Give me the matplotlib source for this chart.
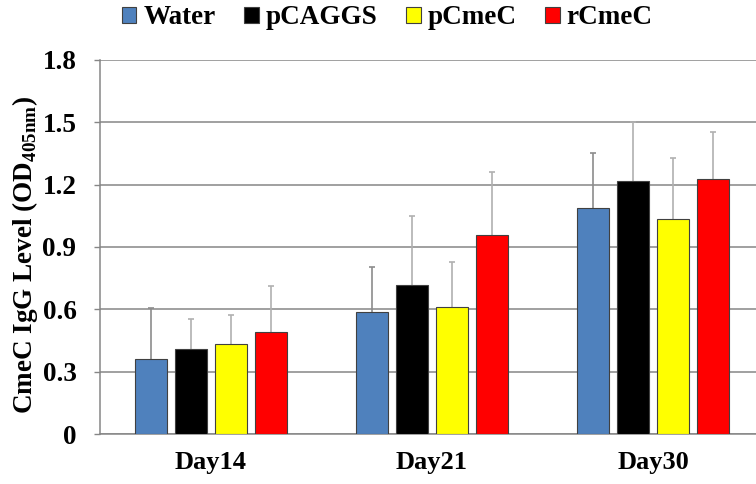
import matplotlib
matplotlib.use("Agg")
import matplotlib.pyplot as plt
import numpy as np

days = ["Day14", "Day21", "Day30"]
groups = ["Water", "pCAGGS", "pCmeC", "rCmeC"]
colors = ["#4F81BD", "#000000", "#FFFF00", "#FF0000"]
err_colors = ["#8c8c8c", "#b0b0b0", "#b0b0b0", "#b0b0b0"]

water = [0.361, 0.586, 1.089]
pcaggs = [0.409, 0.717, 1.216]
pcmec = [0.433, 0.611, 1.035]
rcmec = [0.492, 0.958, 1.226]

water_err = [0.245, 0.219, 0.262]
pcaggs_err = [0.144, 0.332, 0.288]
pcmec_err = [0.141, 0.218, 0.295]
rcmec_err = [0.222, 0.304, 0.226]

yticks = [0, 0.3, 0.6, 0.9, 1.2, 1.5, 1.8]
ytick_labels = ["0", "0.3", "0.6", "0.9", "1.2", "1.5", "1.8"]

plt.rcParams["font.family"] = ["Liberation Serif", "DejaVu Serif"]
plt.rcParams["font.weight"] = "bold"
plt.rcParams["mathtext.fontset"] = "custom"
plt.rcParams["mathtext.bf"] = "Liberation Serif:bold"
plt.rcParams["mathtext.rm"] = "Liberation Serif:bold"

fig = plt.figure(figsize=(7.56, 4.84), dpi=100)
ax = fig.add_axes([100 / 756, 1 - 434 / 484, 664 / 756, 374 / 484])

series = [water, pcaggs, pcmec, rcmec]
errs = [water_err, pcaggs_err, pcmec_err, rcmec_err]
x = np.arange(len(days))
width = 0.1445
step = 0.1806
cap = 0.014
for i, (vals, err, col, ecol, name) in enumerate(
        zip(series, errs, colors, err_colors, groups)):
    pos = x + (i - 1.5) * step
    vals = np.asarray(vals)
    tops = vals + np.asarray(err)
    ax.vlines(pos, vals, tops, color=ecol, linewidth=1.2, zorder=2)
    ax.hlines(tops, pos - cap, pos + cap, color=ecol, linewidth=1.2, zorder=2)
    ax.bar(pos, vals, width=width, color=col, edgecolor="#404040",
           linewidth=0.8, label=name, zorder=3)

ax.set_xlim(-0.5, 2.5)
ax.set_ylim(0, 1.8)
ax.set_yticks(yticks)
ax.set_yticklabels(ytick_labels, fontsize=19.5, fontweight="bold")
ax.set_xticks(x)
ax.set_xticklabels(days, fontsize=19, fontweight="bold")
ax.tick_params(axis="x", length=0, pad=12)
ax.tick_params(axis="y", length=4, width=1, color="#868686", pad=13)
ax.yaxis.grid(True, color="#868686", linewidth=1.1, zorder=0)
ax.set_axisbelow(True)
for s in ["top", "right"]:
    ax.spines[s].set_visible(False)
for s in ["left", "bottom"]:
    ax.spines[s].set_color("#868686")
    ax.spines[s].set_linewidth(1.1)

ax.set_ylabel(r"CmeC IgG Level (OD$_{\mathbf{405nm}}$)", fontsize=19.5,
              fontweight="bold", labelpad=2, y=0.48)

fig.legend(loc="center", bbox_to_anchor=(0.512, 1 - 18 / 484),
           ncol=4, frameon=False, handlelength=0.55,
           handleheight=0.55, handletextpad=0.25, columnspacing=1.05,
           prop={"weight": "bold", "size": 19.5})

fig.savefig("out.png", dpi=100)
